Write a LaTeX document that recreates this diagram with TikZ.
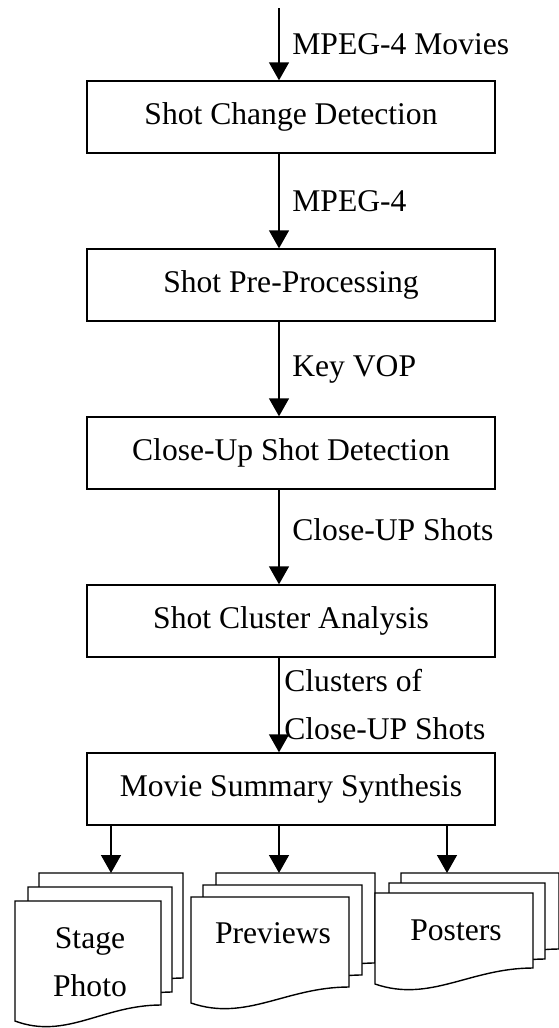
\documentclass[tikz,border=0pt]{standalone}
\usepackage{fontspec}
\setmainfont{Liberation Serif}
\usetikzlibrary{arrows.meta}

% one paper sheet with a wavy bottom edge: x, top, width, bottom at right
\newcommand{\docsheet}[4]{%
  \filldraw[fill=white] (#1,#2) -- (#1+#3,#2) -- (#1+#3,#4)
    .. controls (#1+0.6*#3,#4) and (#1+0.35*#3,#4+35) .. (#1,#4+16) -- cycle;
}

\begin{document}
\begin{tikzpicture}[x=0.5pt, y={(0pt,-0.5pt)}, line width=0.7pt, node distance=84pt, font=\fontsize{15.8}{24}\selectfont, >={Triangle[length=9pt, width=10pt]}, block/.style={rectangle, draw, minimum width=204pt, minimum height=36pt}, lbl/.style={right, xshift=3pt}]
  \useasboundingbox (0,0) rectangle (558,1028);
  {
  \coordinate (input) at (279,8);
  \node[block] (detect) at (291,117) {Shot Change Detection};
  \node[block, below of=detect] (prep) {Shot Pre-Processing};
  \node[block, below of=prep] (closeup) {Close-Up Shot Detection};
  \node[block, below of=closeup] (cluster) {Shot Cluster Analysis};
  \node[block, below of=cluster] (synth) {Movie Summary Synthesis};

  % output documents, back sheet first
  \docsheet{39}{873}{144}{978}
  \docsheet{28}{887}{144}{992}
  \docsheet{15}{901}{146}{1005}
  \docsheet{216}{873}{159}{963}
  \docsheet{203}{885}{159}{975}
  \docsheet{191}{897}{158}{987}
  \docsheet{401}{873}{158}{949}
  \docsheet{389}{883}{156}{959}
  \docsheet{375}{893}{158}{968}
  \node[align=center] (stage) at (90,962) {Stage\\Photo};
  \node (previews) at (273,933) {Previews};
  \node (posters) at (456,930) {Posters};
  \coordinate (stagetop) at (111,873);
  \coordinate (previewstop) at (279,873);
  \coordinate (posterstop) at (447,873);

  \draw[->] (input) -- node[lbl] {MPEG-4 Movies} (detect.north -| input);
  \draw[->] (detect.south -| input) -- node[lbl] {MPEG-4} (prep.north -| input);
  \draw[->] (prep.south -| input) -- node[lbl] {Key VOP} (closeup.north -| input);
  \draw[->] (closeup.south -| input) -- node[lbl, pos=0.42] {Close-UP Shots} (cluster.north -| input);
  \draw[->] (cluster.south -| input) -- node[lbl, align=left, xshift=-4pt] {Clusters of\\Close-UP Shots} (synth.north -| input);
  \draw[->] (synth.south -| stagetop) -- (stagetop);
  \draw[->] (synth.south -| previewstop) -- (previewstop);
  \draw[->] (synth.south -| posterstop) -- (posterstop);
}
\end{tikzpicture}
\end{document}
